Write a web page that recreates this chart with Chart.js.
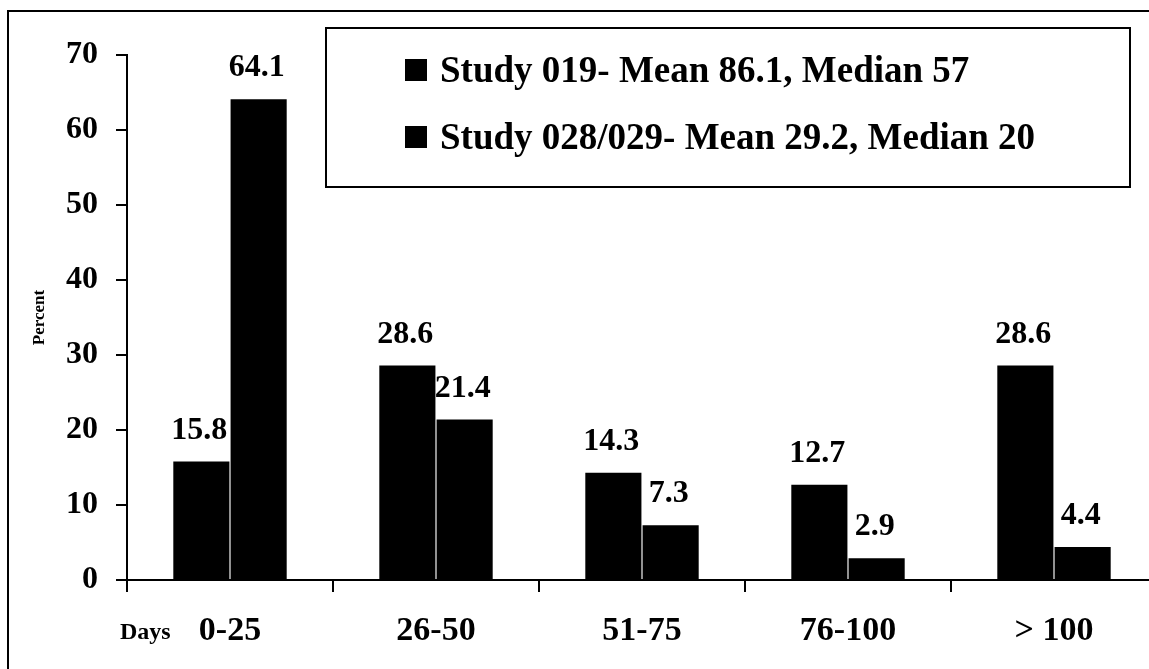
<!DOCTYPE html>
<html><head><meta charset="utf-8">
<script src="https://cdn.jsdelivr.net/npm/chart.js@4.4.1/dist/chart.umd.min.js"></script>
<style>html,body{margin:0;padding:0;background:#fff;overflow:hidden;width:1149px;height:669px}canvas{display:block}</style>
</head><body><canvas id="c" width="1180" height="669"></canvas>
<script>
const categories = ['0-25', '26-50', '51-75', '76-100', '> 100'];
const study019 = [15.8, 28.6, 14.3, 12.7, 28.6];
const study028 = [64.1, 21.4, 7.3, 2.9, 4.4];
const seriesLabels = ['Study 019- Mean 86.1, Median 57', 'Study 028/029- Mean 29.2, Median 20'];
const yTicks = [0, 10, 20, 30, 40, 50, 60, 70];
const yTitle = 'Percent';
const xTitle = 'Days';

const FAM = '"Liberation Serif", "Times New Roman", serif';

const framePlugin = {
  id: 'frame',
  beforeDraw(chart) {
    const ctx = chart.ctx;
    ctx.save();
    ctx.fillStyle = '#fff';
    ctx.fillRect(0, 0, chart.width, chart.height);
    ctx.strokeStyle = '#000';
    ctx.lineWidth = 2;
    ctx.strokeRect(8, 11, 1300, 800);
    ctx.restore();
  }
};

const valueLabels = {
  id: 'valueLabels',
  afterDatasetsDraw(chart) {
    const ctx = chart.ctx;
    ctx.save();
    ctx.font = 'bold 32px ' + FAM;
    ctx.fillStyle = '#000';
    ctx.textAlign = 'center';
    ctx.textBaseline = 'alphabetic';
    chart.data.datasets.forEach((ds, i) => {
      chart.getDatasetMeta(i).data.forEach((bar, j) => {
        ctx.fillText(ds.data[j].toFixed(1), bar.x - 2, bar.y - 23);
      });
    });
    ctx.restore();
  }
};

const legendBox = {
  id: 'legendBox',
  afterDraw(chart) {
    const ctx = chart.ctx;
    ctx.save();
    ctx.strokeStyle = '#000';
    ctx.lineWidth = 2;
    ctx.strokeRect(326, 28, 804, 159);
    ctx.font = 'bold 37px ' + FAM;
    ctx.fillStyle = '#000';
    ctx.textAlign = 'left';
    ctx.textBaseline = 'middle';
    const ys = [70, 137];
    chart.data.datasets.forEach((ds, i) => {
      ctx.fillStyle = ds.backgroundColor;
      ctx.fillRect(405, ys[i] - 11, 22, 22);
      ctx.fillStyle = '#000';
      ctx.fillText(ds.label, 440, ys[i] + 2);
    });
    // Days label
    ctx.font = 'bold 24px ' + FAM;
    ctx.textAlign = 'left';
    ctx.fillText(xTitle, 120, 633);
    ctx.restore();
  }
};

new Chart(document.getElementById('c'), {
  type: 'bar',
  data: {
    labels: categories,
    datasets: [
      { label: seriesLabels[0], data: study019, backgroundColor: '#000', borderWidth: 0,
        categoryPercentage: 0.556, barPercentage: 0.98 },
      { label: seriesLabels[1], data: study028, backgroundColor: '#000', borderWidth: 0,
        categoryPercentage: 0.556, barPercentage: 0.98 }
    ]
  },
  options: {
    responsive: false,
    animation: false,
    layout: { padding: { left: 0, right: 23, top: 55, bottom: 0 } },
    plugins: { legend: { display: false }, tooltip: { enabled: false } },
    scales: {
      x: {
        grid: { drawOnChartArea: false, drawTicks: true, tickLength: 12, color: '#000', lineWidth: 2, offset: true },
        border: { display: true, color: '#000', width: 2 },
        ticks: { color: '#000', padding: 19, font: { family: FAM, size: 34, weight: 'bold' }, maxRotation: 0 },
        afterFit(s) { s.height = 89; }
      },
      y: {
        min: 0, max: 70,
        afterBuildTicks(s) { s.ticks = yTicks.map(v => ({ value: v })); },
        grid: { drawOnChartArea: false, drawTicks: true, tickLength: 11, color: '#000', lineWidth: 2 },
        border: { display: true, color: '#000', width: 2 },
        ticks: { color: '#000', padding: 18, font: { family: FAM, size: 32, weight: 'bold' } },
        title: { display: true, text: yTitle, color: '#000', font: { family: FAM, size: 17, weight: 'bold' }, padding: { top: 29, bottom: 0 } },
        afterFit(s) { s.width = 127; }
      }
    }
  },
  plugins: [framePlugin, valueLabels, legendBox]
});
</script>
</body></html>
